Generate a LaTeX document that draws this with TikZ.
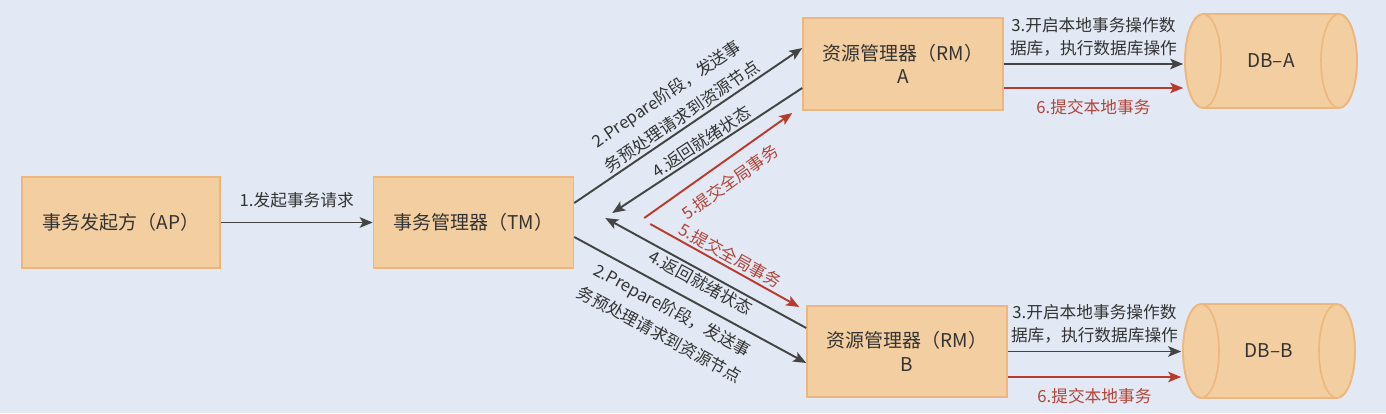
\documentclass[tikz,border=0pt]{standalone}
\usepackage{fontspec}
\setmainfont{Noto Sans CJK SC}
\usetikzlibrary{positioning,arrows.meta}

\definecolor{bgblue}{HTML}{E2E9F4}
\definecolor{boxfill}{HTML}{F3CEA1}
\definecolor{boxline}{HTML}{EBB77E}
\definecolor{arrgray}{HTML}{444444}
\definecolor{arrred}{HTML}{B83B2E}
\definecolor{txtgray}{HTML}{333333}
\definecolor{txtred}{HTML}{B2443A}

\begin{document}
\begin{tikzpicture}[x=0.02cm, y=0.02cm,
  >={Stealth[length=2.6mm, width=2.1mm, inset=0.6mm]},
  box/.style={draw=boxline, fill=boxfill, line width=0.9pt, minimum width=4cm, minimum height=1.82cm, align=center, text=txtgray, font=\fontsize{10.8}{13.5}\selectfont},
  db/.style={minimum width=3.5cm, minimum height=1.94cm, text=txtgray, font=\fontsize{10.8}{13.5}\selectfont,
    path picture={
      \path[fill=boxfill, draw=boxline, line width=0.9pt]
        ([shift={(-1.36cm,0.94cm)}]path picture bounding box.center) -- ++(2.72cm,0)
        arc[start angle=90, end angle=-90, x radius=0.36cm, y radius=0.94cm] -- ++(-2.72cm,0)
        arc[start angle=270, end angle=90, x radius=0.36cm, y radius=0.94cm] -- cycle;
      \draw[boxline, line width=0.9pt] ([xshift=-1.36cm]path picture bounding box.center) ellipse [x radius=0.36cm, y radius=0.94cm];
      \draw[boxline, line width=0.9pt] ([xshift=1.36cm]path picture bounding box.center) ellipse [x radius=0.36cm, y radius=0.94cm];
    }},
  msg/.style={->, draw=arrgray, line width=1.1pt},
  ret/.style={msg, draw=arrred},
  lbl/.style={font=\fontsize{9.5}{13}\selectfont, text=txtgray, align=center, inner sep=1pt},
  rlbl/.style={lbl, text=txtred}]

\fill[bgblue] (0,0) rectangle (1386,413);
\useasboundingbox (0,0) rectangle (1386,413);

% boxes
\node[box, minimum width=3.96cm] (ap) at (121,190.5) {事务发起方（AP）};
\node[box, right=3.04cm of ap] (tm) {事务管理器（TM）};
\node[box, minimum height=1.84cm] (rmA) at (903,349) {资源管理器（RM）\\A};
\node[box] (rmB) at (907,61.5) {资源管理器（RM）\\B};
\node[db] (dbA) at (1271,352) {DB–A};
\node[db] (dbB) at (1269,62) {DB–B};

% free ends
\coordinate (tmInA) at ([shift={(0.76cm,0.19cm)}]tm.east);
\coordinate (tmInB) at ([shift={(0.62cm,0.09cm)}]tm.east);
\coordinate (cmtA) at ([shift={(1.4cm,0.09cm)}]tm.east);
\coordinate (cmtAend) at ([shift={(-0.2cm,-0.98cm)}]rmA.west);
\coordinate (cmtB) at ([shift={(1.52cm,-0.03cm)}]tm.east);
\coordinate (cmtBend) at ([shift={(-0.14cm,0.89cm)}]rmB.west);
\coordinate (okA) at ([yshift=-0.48cm]rmA.east);
\coordinate (okB) at ([yshift=-0.51cm]rmB.east);

\draw[msg] (ap) -- node[lbl, above=6.5pt] (l1) {1.发起事务请求} (tm);

% TM <-> RM A
\draw[msg] ([yshift=0.39cm]tm.east) -- node[lbl, sloped, above=0.5pt] (l2a) {2.Prepare阶段，发送事\\[2.5pt]务预处理请求到资源节点} ([yshift=0.32cm]rmA.west);
\draw[msg] ([yshift=-0.48cm]rmA.west) -- node[lbl, sloped, above=0pt] (l4a) {4.返回就绪状态} (tmInA);
\draw[ret] (cmtA) -- node[rlbl, sloped, below=5.5pt] (l5a) {5.提交全局事务} (cmtAend);

% TM <-> RM B
\draw[ret] (cmtB) -- node[rlbl, sloped, above=0.5pt] (l5b) {5.提交全局事务} (cmtBend);
\draw[msg] ([yshift=0.47cm]rmB.west) -- node[lbl, sloped, below=0pt] (l4b) {4.返回就绪状态} (tmInB);
\draw[msg] ([yshift=-0.29cm]tm.east) -- node[lbl, sloped, below=4pt, pos=0.46] (l2b) {2.Prepare阶段，发送事\\[2.5pt]务预处理请求到资源节点} ([yshift=-0.23cm]rmB.west);

% RM -> DB
\draw[msg] (rmA.east) -- node[lbl, above=3pt] (l3a) {3.开启本地事务操作数\\据库，执行数据库操作} (rmA.east -| dbA.west);
\draw[ret] (okA) -- node[rlbl, below=5pt] (l6a) {6.提交本地事务} (okA -| dbA.west);
\draw[msg] (rmB.east) -- node[lbl, above=3pt] (l3b) {3.开启本地事务操作数\\据库，执行数据库操作} (rmB.east -| dbB.west);
\draw[ret] (okB) -- node[rlbl, below=5pt] (l6b) {6.提交本地事务} (okB -| dbB.west);
\end{tikzpicture}
\end{document}
